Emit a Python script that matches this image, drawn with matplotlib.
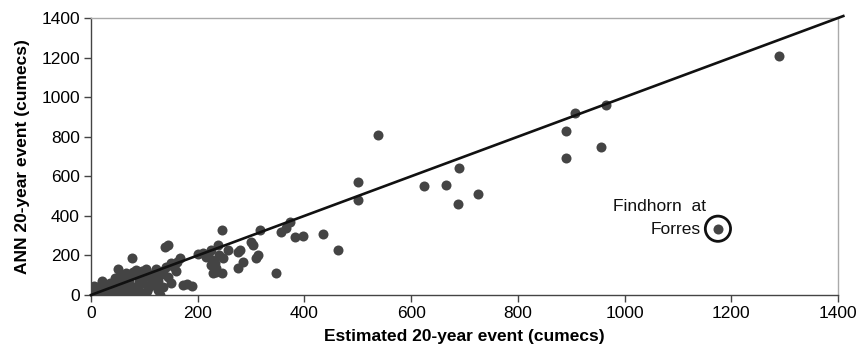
import matplotlib
matplotlib.use("Agg")
import matplotlib.pyplot as plt

plt.rcParams['font.family'] = ['Liberation Sans', 'DejaVu Sans']

# Estimated 20-year event (x) vs ANN 20-year event (y), cumecs
est = [1290, 965, 908, 890, 890, 955,
       538, 500, 500, 625, 665, 690, 688, 725,
       434, 463, 373, 357, 365, 382, 398, 346,
       317, 313, 310, 304, 300, 285, 276, 276, 280, 257, 248, 245, 238, 240, 226, 229, 245, 235, 210, 215,
       145, 139, 167, 161, 173, 189, 180, 77, 51, 129,
       150, 155, 140, 135, 160, 130, 145, 150, 135, 125,
       5, 2, 10, 15, 20, 25, 30, 35, 40, 45, 50, 55, 60, 65, 70, 75, 80, 85, 90, 95, 100, 105, 110, 115,
       120, 100, 90, 70, 60, 80, 40, 30, 25, 10, 18, 48, 55, 65, 72, 78, 88, 92, 98, 108, 112, 118, 122,
       125, 103, 85, 60, 45, 35, 20, 8, 12, 5,
       225, 232, 235, 225, 220, 200]
ann = [1210, 960, 920, 830, 690, 750,
       810, 570, 480, 550, 555, 640, 460, 510,
       308, 227, 370, 320, 340, 293, 298, 113,
       328, 202, 185, 253, 270, 168, 136, 219, 225, 227, 187, 328, 253, 200, 177, 111, 111, 115, 212, 190,
       253, 243, 187, 168, 50, 45, 55, 187, 131, 0,
       160, 140, 140, 120, 120, 100, 90, 60, 40, 70,
       45, 10, 20, 5, 30, 15, 40, 60, 50, 20, 70, 45, 30, 80, 55, 100, 40, 110, 65, 120, 90, 20, 105, 70,
       50, 120, 90, 20, 10, 10, 5, 25, 55, 35, 50, 35, 95, 110, 75, 115, 40, 15, 60, 40, 85, 100, 130,
       25, 130, 125, 60, 85, 30, 70, 10, 0, 5,
       150, 160, 135, 225, 200, 205]

findhorn_x = [1175]
findhorn_y = [335]

x_ticks = [0, 200, 400, 600, 800, 1000, 1200, 1400]
y_ticks = [0, 200, 400, 600, 800, 1000, 1200, 1400]

fig = plt.figure(figsize=(8.6, 3.53), dpi=100)
ax = fig.add_axes([0.1058, 0.1643, 0.9744 - 0.1058, 0.949 - 0.1643])

ax.scatter(est, ann, s=52, color='#444444', linewidths=0, zorder=3)
ax.scatter(findhorn_x, findhorn_y, s=52, color='#444444', linewidths=0, zorder=3)
ax.scatter(findhorn_x, findhorn_y, s=330, facecolors='none', edgecolors='#111111',
           linewidths=2.0, zorder=3)
ax.plot([0, 1410], [0, 1410], color='#111111', linewidth=1.9, clip_on=False, zorder=4)

ax.text(1153, 445, "Findhorn  at", ha='right', va='center', fontsize=12.5, color='#111111')
ax.text(1143, 333, "Forres", ha='right', va='center', fontsize=12.5, color='#111111')

ax.set_xlim(0, 1400)
ax.set_ylim(0, 1400)
ax.set_xticks(x_ticks)
ax.set_yticks(y_ticks)
ax.tick_params(axis='both', direction='out', length=5, width=1, color='#444444',
               labelsize=12.5, pad=3)

for s in ['left', 'bottom']:
    ax.spines[s].set_color('#444444')
    ax.spines[s].set_linewidth(1.0)
for s in ['top', 'right']:
    ax.spines[s].set_color('#aaaaaa')
    ax.spines[s].set_linewidth(1.0)

ax.set_xlabel("Estimated 20-year event (cumecs)", fontsize=12.5, fontweight='bold', labelpad=6)
ax.set_ylabel("ANN 20-year event (cumecs)", fontsize=12.5, fontweight='bold', labelpad=8)

fig.savefig("out.png", dpi=100)
